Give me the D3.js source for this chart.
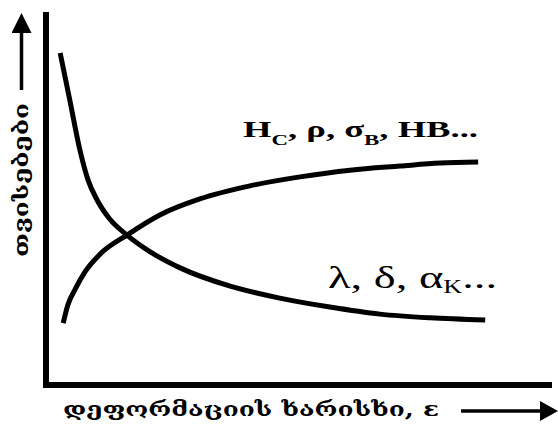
<!DOCTYPE html>
<html>
<head>
<meta charset="utf-8">
<script src="https://cdn.jsdelivr.net/npm/d3@7/dist/d3.min.js"></script>
<style>
  html, body { margin: 0; padding: 0; background: #fff; }
  svg { display: block; }
</style>
</head>
<body>
<script>
// Deformation degree (relative units) for each curve
const strainRising = [3.4, 4.3, 5.7, 7.7, 10.7, 16.0, 22.5, 30.4, 40.3, 50.2, 60.1, 70.0, 77.9, 85.4];
// Strength-type properties: H_C, ρ, σ_B, HB ...
const strengthValues = [16.6, 21.4, 25.5, 30.3, 35.1, 40.2, 45.6, 49.9, 53.4, 55.8, 57.6, 58.7, 59.5, 59.8];

const strainFalling = [2.8, 4.7, 6.7, 8.3, 10.1, 12.6, 16.0, 20.6, 26.5, 36.4, 46.2, 56.1, 66.0, 75.9, 86.8];
// Plasticity-type properties: λ, δ, α_K ...
const plasticityValues = [89.0, 76.4, 63.0, 55.0, 49.6, 44.5, 40.2, 35.7, 31.4, 26.5, 23.3, 20.9, 19.0, 18.0, 17.4];

const xTitle = "დეფორმაციის ხარისხი, ε";
const yTitle = "თვისებები";

const W = 558, H = 434;
const svg = d3.select("body").append("svg").attr("width", W).attr("height", H);

const x = d3.scaleLinear().domain([0, 100]).range([46, 552]);
const y = d3.scaleLinear().domain([0, 100]).range([385, 12]);

// solid triangular arrowheads
const defs = svg.append("defs");
function arrowHead(id, len, wid) {
  defs.append("marker")
    .attr("id", id).attr("viewBox", "0 0 10 10")
    .attr("preserveAspectRatio", "none")
    .attr("refX", 0).attr("refY", 5)
    .attr("markerWidth", len).attr("markerHeight", wid)
    .attr("markerUnits", "userSpaceOnUse")
    .attr("orient", "auto")
    .append("path").attr("d", "M0,0 L10,5 L0,10 Z").attr("fill", "#000");
}
arrowHead("arrowY", 20, 20);
arrowHead("arrowX", 18, 20);

// axes: plain L-shaped frame without ticks
svg.append("path")
  .attr("d", `M${x(0)},${y(100)} L${x(0)},${y(0)} L${x(100)},${y(0)}`)
  .attr("fill", "none").attr("stroke", "#000").attr("stroke-width", 6)
  .attr("stroke-linejoin", "miter");

const line = d3.line().curve(d3.curveMonotoneX)
  .x(d => x(d[0])).y(d => y(d[1]));

svg.append("path")
  .datum(d3.zip(strainRising, strengthValues))
  .attr("d", line)
  .attr("fill", "none").attr("stroke", "#000").attr("stroke-width", 5);

svg.append("path")
  .datum(d3.zip(strainFalling, plasticityValues))
  .attr("d", line)
  .attr("fill", "none").attr("stroke", "#000").attr("stroke-width", 5);

// y title with upward arrow
svg.append("line")
  .attr("x1", 21.5).attr("y1", 90).attr("x2", 21.5).attr("y2", 33)
  .attr("stroke", "#000").attr("stroke-width", 3.5)
  .attr("marker-end", "url(#arrowY)");

svg.append("text")
  .attr("transform", "translate(28,180) rotate(-90)")
  .attr("text-anchor", "middle")
  .attr("font-family", "DejaVu Serif")
  .attr("font-weight", "bold")
  .attr("font-size", 20)
  .attr("textLength", 154).attr("lengthAdjust", "spacingAndGlyphs")
  .text(yTitle);

// x title with rightward arrow
svg.append("text")
  .attr("x", 63).attr("y", 416)
  .attr("font-family", "DejaVu Serif")
  .attr("font-weight", "bold")
  .attr("font-size", 20)
  .attr("textLength", 376).attr("lengthAdjust", "spacingAndGlyphs")
  .text(xTitle);
svg.append("line")
  .attr("x1", 461).attr("y1", 411).attr("x2", 540).attr("y2", 411)
  .attr("stroke", "#000").attr("stroke-width", 3.5)
  .attr("marker-end", "url(#arrowX)");

// curve labels
const serif = "Liberation Serif";
const t1 = svg.append("text").attr("x", 243).attr("y", 137)
  .attr("font-family", serif).attr("font-weight", "bold").attr("font-size", 24)
  .attr("textLength", 235).attr("lengthAdjust", "spacingAndGlyphs");
t1.append("tspan").text("H");
t1.append("tspan").attr("font-size", 15).attr("dy", 8).text("C");
t1.append("tspan").attr("dy", -8).text(", ρ, σ");
t1.append("tspan").attr("font-size", 15).attr("dy", 8).text("B");
t1.append("tspan").attr("dy", -8).text(", HB...");

const t2 = svg.append("text").attr("x", 328).attr("y", 288)
  .attr("font-family", serif).attr("font-size", 32)
  .attr("textLength", 169).attr("lengthAdjust", "spacingAndGlyphs");
t2.append("tspan").text("λ, δ, α");
t2.append("tspan").attr("font-size", 18).attr("dy", 5).text("K");
t2.append("tspan").attr("dy", -5).text("...");
</script>
</body>
</html>
